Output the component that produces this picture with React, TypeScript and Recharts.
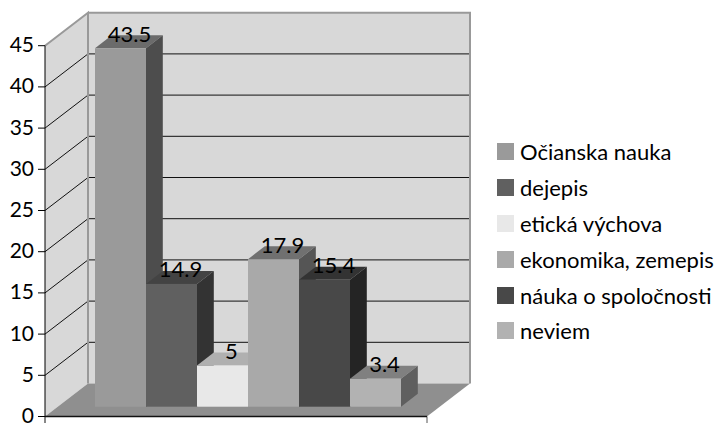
import React from 'react';
import { BarChart, Bar, XAxis, YAxis, Legend, LabelList, Customized, usePlotArea } from 'recharts';

const categories = ['Predmet'];
const seriesNames = ['Očianska nauka', 'dejepis', 'etická výchova', 'ekonomika, zemepis', 'náuka o spoločnosti', 'neviem'];
const seriesValues = [43.5, 14.9, 5, 17.9, 15.4, 3.4];
const yTicks = [0, 5, 10, 15, 20, 25, 30, 35, 40, 45];

const frontColors = ['#9a9a9a', '#606060', '#e8e8e8', '#a9a9a9', '#484848', '#b2b2b2'];
const topColors = ['#6b6b6b', '#434343', '#b0b0b0', '#707070', '#333333', '#808080'];
const sideColors = ['#4d4d4d', '#333333', '#8a8a8a', '#555555', '#242424', '#5f5f5f'];

const FONT = 'Lato, sans-serif';
const DEPTH_X = 43, DEPTH_Y = 33;
const BAR_SHIFT_X = 12.5, BAR_SHIFT_Y = 9.8, BAR_DX = 16.8, BAR_DY = 13;

const tableRow: Record<string, string | number> = { category: categories[0] };
seriesNames.forEach((n, i) => { tableRow[n] = seriesValues[i]; });
const table = [tableRow];

function Walls() {
  const p = usePlotArea();
  if (!p) return null;
  const l = p.x, r = p.x + p.width, t = p.y, b = p.y + p.height;
  const yOf = (v: number) => b - (v / 45) * p.height;
  const wall = '#d8d8d8', edge = '#999999';
  return (
    <g>
      <polygon points={`${l + DEPTH_X},${t - DEPTH_Y} ${r + DEPTH_X},${t - DEPTH_Y} ${r + DEPTH_X},${b - DEPTH_Y} ${l + DEPTH_X},${b - DEPTH_Y}`} fill={wall} />
      <polygon points={`${l},${t} ${l + DEPTH_X},${t - DEPTH_Y} ${l + DEPTH_X},${b - DEPTH_Y} ${l},${b}`} fill={wall} />
      {yTicks.filter(v => v > 0 && v < 45).map(v => (
        <polyline key={v} points={`${l},${yOf(v)} ${l + DEPTH_X},${yOf(v) - DEPTH_Y} ${r + DEPTH_X},${yOf(v) - DEPTH_Y}`} fill="none" stroke="#111" strokeWidth={1} />
      ))}
      <polyline points={`${l},${t} ${l + DEPTH_X},${t - DEPTH_Y} ${l + DEPTH_X},${b - DEPTH_Y}`} fill="none" stroke={edge} strokeWidth={2} />
      <polyline points={`${l + DEPTH_X},${t - DEPTH_Y} ${r + DEPTH_X},${t - DEPTH_Y} ${r + DEPTH_X},${b - DEPTH_Y}`} fill="none" stroke={edge} strokeWidth={2} />
      <polygon points={`${l},${b} ${r},${b} ${r + DEPTH_X},${b - DEPTH_Y} ${l + DEPTH_X},${b - DEPTH_Y}`} fill="#8f8f8f" />
      <line x1={l} y1={b} x2={l} y2={b + 7} stroke="#111" />
      <line x1={r} y1={b} x2={r} y2={b + 7} stroke="#555" />
    </g>
  );
}

const makeShape = (i: number) => (props: any) => {
  const x = props.x + BAR_SHIFT_X, y = props.y - BAR_SHIFT_Y, w = props.width, h = props.height;
  return (
    <g>
      <polygon points={`${x},${y} ${x + w},${y} ${x + w + BAR_DX},${y - BAR_DY} ${x + BAR_DX},${y - BAR_DY}`} fill={topColors[i]} />
      <polygon points={`${x + w},${y} ${x + w + BAR_DX},${y - BAR_DY} ${x + w + BAR_DX},${y + h - BAR_DY} ${x + w},${y + h}`} fill={sideColors[i]} />
      <rect x={x} y={y} width={w} height={h} fill={frontColors[i]} />
    </g>
  );
};

const valueLabel = (props: any) => {
  const { x, y, width, value } = props;
  return (
    <text x={x + width / 2 + BAR_SHIFT_X + 9} y={y - BAR_SHIFT_Y - 6.5} textAnchor="middle" fontFamily={FONT} fontSize={22} fill="#000">
      {value}
    </text>
  );
};

const legendContent = (props: any) => (
  <div style={{ fontFamily: FONT, fontSize: 22, color: '#000' }}>
    {(props.payload || []).map((e: any, i: number) => (
      <div key={i} style={{ display: 'flex', alignItems: 'center', height: 35.8, whiteSpace: 'nowrap' }}>
        <span style={{ display: 'inline-block', width: 17, height: 17, background: frontColors[i], marginRight: 6 }} />
        <span>{e.value}</span>
      </div>
    ))}
  </div>
);

export default function App() {
  return (
    <div style={{ position: 'absolute', left: 0, top: 0, width: 717, height: 423, background: '#fff' }}>
      <BarChart width={717} height={423} data={table} barGap={0} barCategoryGap={37.5}
        margin={{ top: 45.7, right: 70, bottom: 0, left: 0 }}>
        <Customized component={Walls} />
        <XAxis dataKey="category" tick={false} tickLine={false} height={6.5} axisLine={{ stroke: '#111', strokeWidth: 1.5 }} />
        <YAxis domain={[0, 45]} ticks={yTicks} width={45} interval={0} tickSize={7} tickMargin={4}
          axisLine={{ stroke: '#000' }} tickLine={{ stroke: '#000' }}
          tick={{ fontFamily: FONT, fontSize: 21, fill: '#000', dy: -1 }} />
        {seriesNames.map((n, i) => (
          <Bar key={n} dataKey={n} name={n} fill={frontColors[i]} isAnimationActive={false} shape={makeShape(i)}>
            <LabelList dataKey={n} content={valueLabel} />
          </Bar>
        ))}
        <Legend layout="vertical" align="right" verticalAlign="middle" width={220} content={legendContent} itemSorter={null}
          wrapperStyle={{ left: 497, top: 134, right: 'auto', bottom: 'auto', width: 220 }} />
      </BarChart>
    </div>
  );
}
